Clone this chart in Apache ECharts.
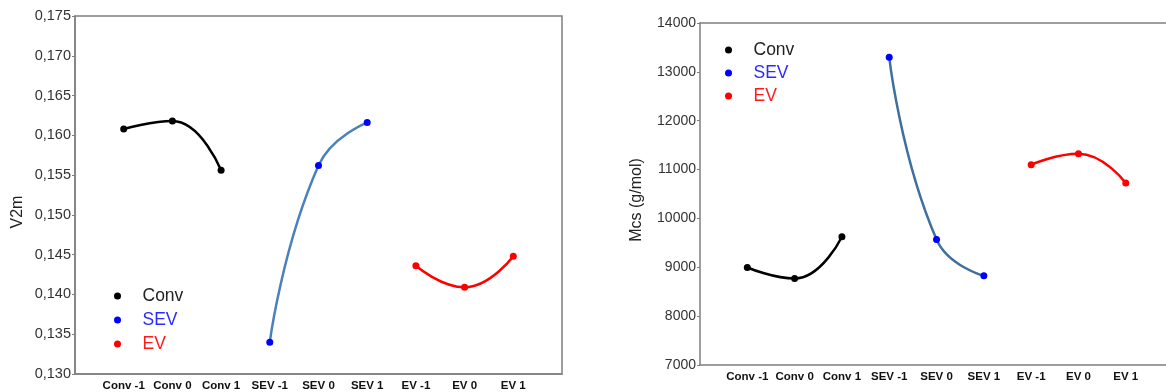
<!DOCTYPE html>
<html>
<head>
<meta charset="utf-8">
<script src="https://cdn.jsdelivr.net/npm/echarts@6/dist/echarts.min.js"></script>
<style>
html,body{margin:0;padding:0;background:#fff;}
#c{width:1166px;height:392px;}
</style>
</head>
<body>
<div id="c"></div>
<script>
// ---- data ----
const categories = ['Conv -1','Conv 0','Conv 1','SEV -1','SEV 0','SEV 1','EV -1','EV 0','EV 1'];
const groups = ['Conv','SEV','EV'];
// V2m (left chart)
const v2mConv = [0.1608, 0.1618, 0.1556];
const v2mSEV  = [0.1340, 0.1562, 0.1616];
const v2mEV   = [0.1436, 0.1409, 0.1448];
// Mcs (g/mol) (right chart)
const mcsConv = [8995, 8770, 9625];
const mcsSEV  = [13300, 9570, 8825];
const mcsEV   = [11100, 11325, 10725];

const FONT = '"Liberation Sans", Arial, sans-serif';
const frame = '#7f7f7f';
const markerColors = {Conv:'#000000', SEV:'#0000ff', EV:'#ff0000'};
const lineColorsL = {Conv:'#000000', SEV:'#4a80bf', EV:'#ff0000'};
const lineColorsR = {Conv:'#000000', SEV:'#3f6f9f', EV:'#ff0000'};
const legendText = {Conv:'#222222', SEV:'#2b2bff', EV:'#ff1a1a'};

function pts(vals, group){
  const start = groups.indexOf(group) * 3;
  return vals.map((v,i) => [start + i + 1, v]);
}
function catLabel(v){
  if (Math.abs(v - Math.round(v)) > 1e-6) return '';
  const i = Math.round(v) - 1;
  return (i >= 0 && i < categories.length) ? categories[i] : '';
}
function mkSeries(name, vals, idx, lineColors){
  return {
    type:'line', name:name, xAxisIndex:idx, yAxisIndex:idx,
    data: pts(vals, name), smooth:0.5,
    symbol:'circle', symbolSize:7, showSymbol:true,
    lineStyle:{color:lineColors[name], width:2.5},
    itemStyle:{color:markerColors[name]},
    emphasis:{disabled:true}, z:3
  };
}
function mkLegend(left, top, gap){
  return {
    orient:'vertical', left:left, top:top, itemGap:gap,
    itemWidth:40, itemHeight:7, selectedMode:false, icon:'circle',
    data: groups.map(g => ({name:g, itemStyle:{color:markerColors[g]}, textStyle:{color:legendText[g]}})),
    textStyle:{fontFamily:FONT, fontSize:17.5}
  };
}
const xLabel = {formatter:catLabel, color:'#111', fontFamily:FONT, fontSize:11.5, fontWeight:'bold', margin:6, showMinLabel:false, showMaxLabel:false};
const yAxisCommon = {
  type:'value',
  axisLine:{show:true, lineStyle:{color:frame, width:1.5}},
  axisTick:{show:true, length:3, lineStyle:{color:frame}},
  splitLine:{show:false},
};

const option = {
  backgroundColor:'#fff',
  animation:false,
  grid:[
    {left:75, top:16, width:487, height:360, show:true, borderColor:frame, borderWidth:1.5, containLabel:false},
    {left:700, top:23, width:466, height:342, show:false, containLabel:false}
  ],
  xAxis:[
    {gridIndex:0, type:'value', min:0, max:10, interval:1,
      axisLine:{show:true, lineStyle:{color:frame, width:1.5}}, axisTick:{show:false}, splitLine:{show:false}, axisLabel:xLabel},
    {gridIndex:1, type:'value', min:0, max:9.85, interval:1,
      axisLine:{show:true, lineStyle:{color:frame, width:1.5}}, axisTick:{show:false}, splitLine:{show:false}, axisLabel:xLabel},
    {gridIndex:1, type:'value', position:'top', min:0, max:9.85, interval:1,
      axisLine:{show:true, lineStyle:{color:frame, width:1.5}}, axisTick:{show:false}, splitLine:{show:false}, axisLabel:{show:false}}
  ],
  yAxis:[
    Object.assign({gridIndex:0, min:0.13, max:0.175, interval:0.005,
      axisLabel:{formatter:v => v.toFixed(3).replace('.', ','), color:'#333', fontFamily:FONT, fontSize:14.5, margin:4}}, yAxisCommon),
    Object.assign({gridIndex:1, min:7000, max:14000, interval:1000,
      axisLabel:{formatter:v => String(Math.round(v)), color:'#333', fontFamily:FONT, fontSize:14, margin:4}}, yAxisCommon)
  ],
  legend:[ mkLegend(109, 282, 6), mkLegend(720, 36, 5) ],
  graphic:[
    {type:'text', x:18, y:212, rotation:Math.PI/2,
      style:{text:'V2m', fill:'#222', font:'16px "Liberation Sans", Arial, sans-serif', align:'center', verticalAlign:'middle'}},
    {type:'text', x:637, y:200, rotation:Math.PI/2,
      style:{text:'Mcs (g/mol)', fill:'#222', font:'16px "Liberation Sans", Arial, sans-serif', align:'center', verticalAlign:'middle'}}
  ],
  series:[
    mkSeries('Conv', v2mConv, 0, lineColorsL),
    mkSeries('SEV', v2mSEV, 0, lineColorsL),
    mkSeries('EV', v2mEV, 0, lineColorsL),
    mkSeries('Conv', mcsConv, 1, lineColorsR),
    mkSeries('SEV', mcsSEV, 1, lineColorsR),
    mkSeries('EV', mcsEV, 1, lineColorsR)
  ]
};
const chart = echarts.init(document.getElementById('c'), null, {renderer:'canvas'});
chart.setOption(option);
</script>
</body>
</html>
